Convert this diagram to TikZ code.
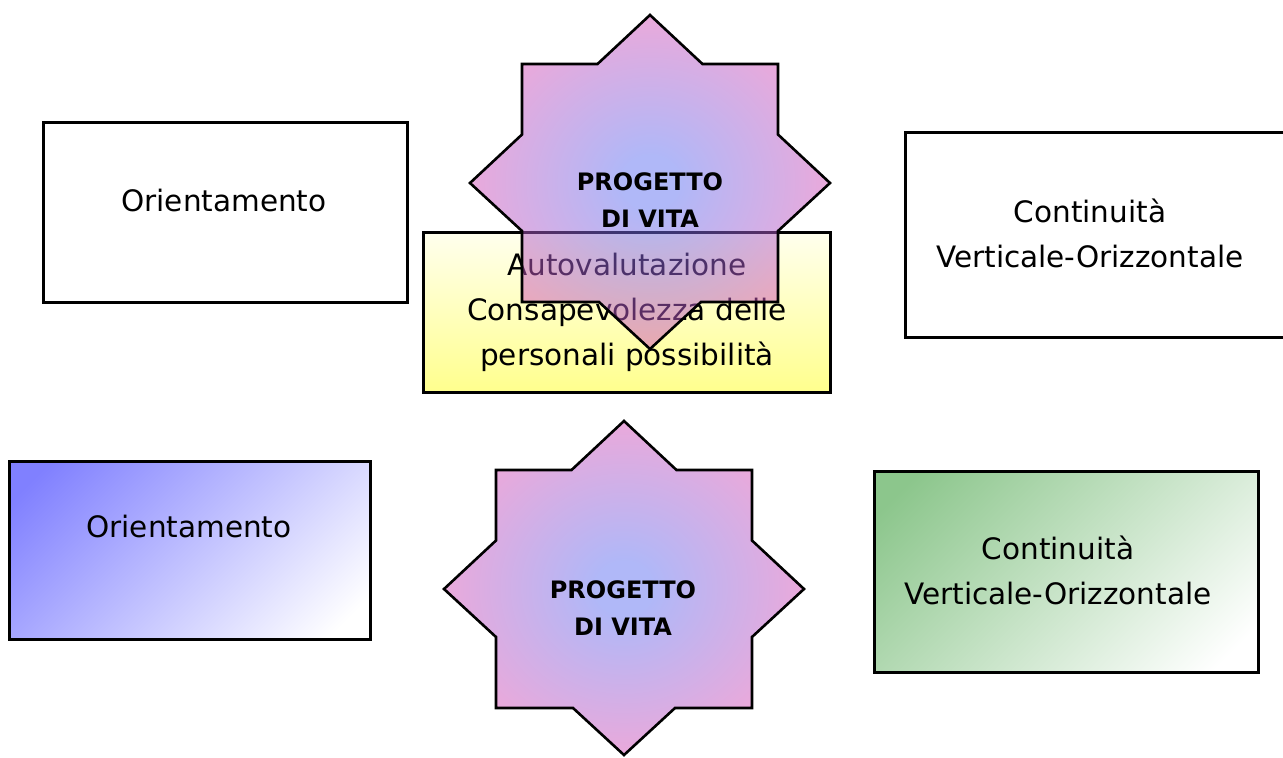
\documentclass[tikz,border=0pt]{standalone}
\usepackage{fontspec}
\setmainfont{DejaVu Sans}

\definecolor{starcore}{RGB}{97,113,241}
\definecolor{starrim}{RGB}{235,78,172}
\definecolor{boxyellow}{RGB}{255,255,128}
\definecolor{boxblue}{RGB}{128,128,255}
\definecolor{boxgreen}{RGB}{140,198,140}
\pgfdeclareradialshading{starglow}{\pgfpoint{0bp}{0bp}}{color(0bp)=(starcore); color(4bp)=(starcore); color(29bp)=(starrim); color(50bp)=(starrim)}
\pgfdeclareverticalshading{yellowfade}{100bp}{color(0bp)=(boxyellow); color(18bp)=(boxyellow); color(84bp)=(white); color(100bp)=(white)}
\pgfdeclareverticalshading{bluefade}{100bp}{color(0bp)=(white); color(20bp)=(white); color(80bp)=(boxblue); color(100bp)=(boxblue)}
\pgfdeclareverticalshading{greenfade}{100bp}{color(0bp)=(white); color(20bp)=(white); color(80bp)=(boxgreen); color(100bp)=(boxgreen)}

\tikzset{
    box/.style={draw, line width=3pt, rectangle, inner sep=0pt},
    boxtext/.style={align=center, font=\fontsize{29.5}{45}\selectfont},
    startext/.style={align=center, font=\bfseries\fontsize{24}{37}\selectfont},
    stella/.pic={
        \shadedraw[line width=2.6pt, shading=starglow, fill opacity=0.5]
            (0,-168) -- (52.5,-119) -- (128,-119) -- (128,-48.5) -- (180,0) -- (128,48) -- (128,119) -- (51,119)
            -- (0,166) -- (-51,119) -- (-128,119) -- (-128,48) -- (-180,0) -- (-128,-48.5) -- (-128,-119) -- (-52.5,-119) -- cycle;
    }
}

\begin{document}
\begin{tikzpicture}[x=1pt, y=-1pt]
        \useasboundingbox (0,0) rectangle (1283,758);

        \node[box, fill=white, minimum width=364pt, minimum height=180pt] (orientTop) at (225,212) {};
        \node[boxtext] (orientTopText) at (224,200) {Orientamento};
        \node[box, fill=white, minimum width=390pt, minimum height=205pt] (contTop) at (1100,234.5) {};
        \node[boxtext] (contTopText) at (1090,233) {Continuità\\Verticale-Orizzontale};
        \node[box, shade, shading=yellowfade, minimum width=407pt, minimum height=160pt] (autoval) at (626.5,312) {};
        \node[boxtext] (autovalText) at (627,312) {Autovalutazione\\Consapevolezza delle\\personali possibilità};
        \pic at (650,183) {stella};
        \node[startext] (progettoTop) at (650,200) {PROGETTO\\DI VITA};

        \node[box, shade, shading=bluefade, shading angle=45, minimum width=361pt, minimum height=178pt] (orientBot) at (189.5,550) {};
        \node[boxtext] (orientBotText) at (189,526) {Orientamento};
        \node[box, shade, shading=greenfade, shading angle=45, minimum width=384pt, minimum height=201pt] (contBot) at (1066,571.5) {};
        \node[boxtext] (contBotText) at (1058,570) {Continuità\\Verticale-Orizzontale};
        \pic at (624,589) {stella};
        \node[startext] (progettoBot) at (623,608) {PROGETTO\\DI VITA};
    \end{tikzpicture}
\end{document}
